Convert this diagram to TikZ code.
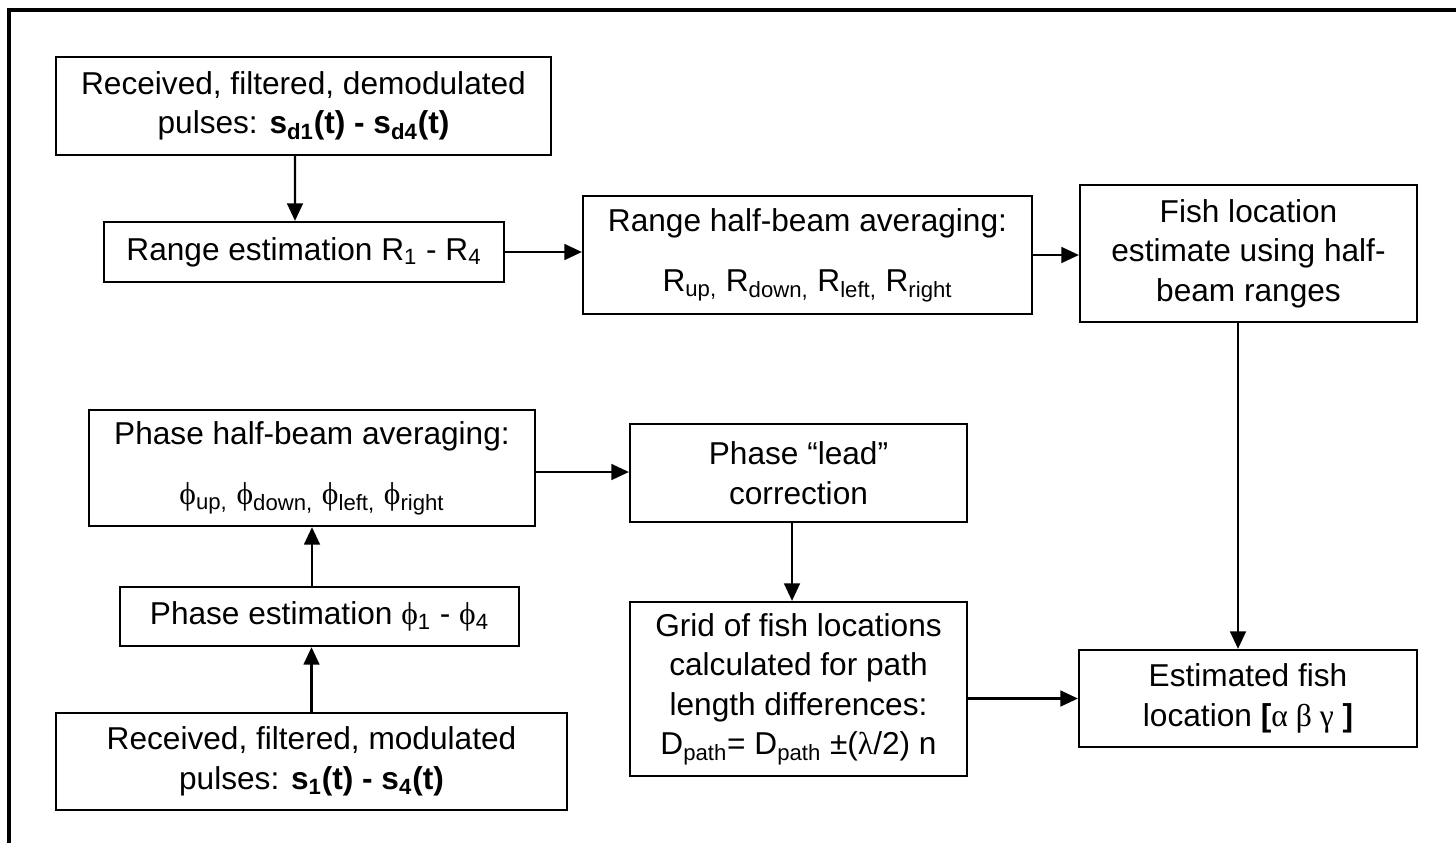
\documentclass[tikz,border=0pt]{standalone}
\usepackage{fontspec}
\setmainfont{Liberation Sans}
\newfontfamily\grk{Liberation Serif}
\usepackage{tikz}
\usetikzlibrary{arrows.meta}

\newcommand{\sbs}[1]{\textsubscript{#1}}
\newcommand{\gph}{{\grk ϕ}}

\begin{document}
\begin{tikzpicture}[x=0.02cm, y=-0.02cm,
    box/.style={draw, line width=1.3pt, inner sep=0pt, align=center,
        font=\fontsize{18pt}{22.5pt}\selectfont},
    arr/.style={line width=1.3pt, -{Triangle[length=10pt, width=9pt]}}]
    \useasboundingbox (0,0) rectangle (1456,843);

    % 外枠
    \draw[line width=2.3pt] (9,843) -- (9,10) -- (1456,10);

    % 距離の系統
    \node[box, minimum width=9.9cm, minimum height=1.96cm] (demod) at (303.5,106)
        {Received, filtered, demodulated\\pulses: \textbf{s\sbs{d1}(t) - s\sbs{d4}(t)}};
    \node[box, minimum width=8cm, minimum height=1.2cm] (rangeest) at (304,252)
        {Range estimation R\sbs{1} - R\sbs{4}};
    \node[box, minimum width=8.98cm, minimum height=2.36cm] (rangeavg) at (807.5,255)
        {Range half-beam averaging:\\[12pt]R\sbs{up,} R\sbs{down,} R\sbs{left,} R\sbs{right}};
    \node[box, minimum width=6.74cm, minimum height=2.74cm] (fishest) at (1248.5,253.5)
        {Fish location\\estimate using half-\\beam ranges};

    % 位相の系統
    \node[box, minimum width=8.92cm, minimum height=2.32cm] (phaseavg) at (312,468)
        {Phase half-beam averaging:\\[12pt]\gph\sbs{up,} \gph\sbs{down,} \gph\sbs{left,} \gph\sbs{right}};
    \node[box, minimum width=7.98cm, minimum height=1.18cm] (phaseest) at (319.5,616.5)
        {Phase estimation \gph\sbs{1} - \gph\sbs{4}};
    \node[box, minimum width=10.22cm, minimum height=1.94cm] (mod) at (311.5,761.5)
        {Received, filtered, modulated\\pulses: \textbf{s\sbs{1}(t) - s\sbs{4}(t)}};
    \node[box, minimum width=6.74cm, minimum height=1.96cm] (lead) at (798.5,473)
        {Phase “lead”\\correction};
    \node[box, minimum width=6.74cm, minimum height=3.48cm] (grid) at (798.5,689)
        {Grid of fish locations\\calculated for path\\length differences:\\D\sbs{path}= D\sbs{path} ±({\grk λ}/2) n};
    \node[box, minimum width=6.76cm, minimum height=1.94cm] (fishloc) at (1248,698.5)
        {Estimated fish\\location \textbf{[}{\grk α β γ} \textbf{]}};

    % 矢印
    \draw[arr] ([xshift=-0.17cm]demod.south) -- ([xshift=-0.18cm]rangeest.north);
    \draw[arr] (rangeest.east) -- (rangeest.east -| rangeavg.west);
    \draw[arr] (rangeavg.east) -- (rangeavg.east -| fishest.west);
    \draw[arr] ([xshift=-0.21cm]fishest.south) -- ([xshift=-0.21cm]fishest.south |- fishloc.north);
    \draw[arr] ([yshift=-0.08cm]phaseavg.east) -- ([yshift=-0.08cm]phaseavg.east -| lead.west);
    \draw[arr] (mod.north) -- (mod.north |- phaseest.south);
    \draw[arr] (phaseavg.south |- phaseest.north) -- (phaseavg.south);
    \draw[arr] ([xshift=-0.13cm]lead.south) -- ([xshift=-0.13cm]grid.north);
    \draw[arr] (grid.east |- fishloc.west) -- (fishloc.west);
\end{tikzpicture}
\end{document}
